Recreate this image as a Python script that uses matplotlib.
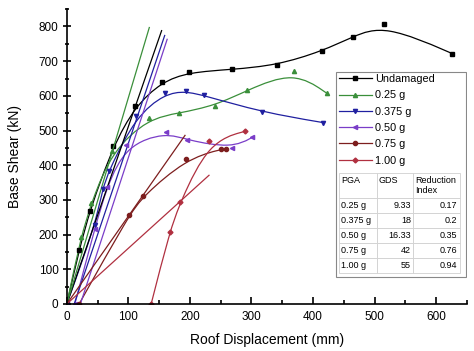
import numpy as np
import matplotlib
matplotlib.use('Agg')
import matplotlib.pyplot as plt
from matplotlib.path import Path
from matplotlib.patches import PathPatch, Rectangle
from matplotlib.lines import Line2D

plt.rcParams['font.family'] = ['Liberation Sans', 'DejaVu Sans']

# curves (mm, kN)
undamaged_x = [0, 20, 37, 75, 111, 154, 198, 268, 341, 415, 465, 516, 626]
undamaged_y = [0, 155, 268, 455, 570, 640, 668, 676, 688, 729, 771, 806, 722]
g025_x = [0, 23, 40, 73, 133, 182, 241, 293, 369, 422]
g025_y = [0, 194, 292, 441, 535, 550, 572, 616, 672, 608]
g0375_x = [0, 46, 58, 68, 112, 160, 193, 223, 317, 416]
g0375_y = [0, 227, 330, 384, 541, 607, 613, 601, 553, 523]
g050_x = [13, 45, 65, 96, 161, 196, 268, 301]
g050_y = [0, 215, 338, 458, 495, 472, 449, 480]
g075_x = [20, 101, 124, 193, 250, 259]
g075_y = [0, 256, 311, 417, 446, 446]
g100_x = [137, 167, 184, 231, 290]
g100_y = [0, 207, 293, 469, 498]

# stiffness lines (start, end)
tangent_x = {'Undamaged': [0, 154], '0.25 g': [0, 134], '0.375 g': [12, 159],
             '0.50 g': [22, 163], '0.75 g': [0, 192], '1.00 g': [0, 231]}
tangent_y = {'Undamaged': [0, 788], '0.25 g': [0, 797], '0.375 g': [0, 774],
             '0.50 g': [0, 763], '0.75 g': [0, 486], '1.00 g': [0, 371]}

labels = ['Undamaged', '0.25 g', '0.375 g', '0.50 g', '0.75 g', '1.00 g']
colors = ['#000000', '#3a8f3a', '#2020a0', '#7a3dc8', '#7d1e1e', '#b03040']
markers = ['s', '^', 'v', '<', 'o', 'D']
msizes = [3.0, 3.0, 3.0, 3.0, 3.0, 2.5]
xs = [undamaged_x, g025_x, g0375_x, g050_x, g075_x, g100_x]
ys = [undamaged_y, g025_y, g0375_y, g050_y, g075_y, g100_y]

# table values
pga = ['0.25 g', '0.375 g', '0.50 g', '0.75 g', '1.00 g']
gds = ['9.33', '18', '16.33', '42', '55']
red_index = ['0.17', '0.2', '0.35', '0.76', '0.94']


def bspline_path(x, y):
    # Origin style B-spline: clamped uniform cubic, drawn as bezier segments
    p = np.column_stack([x, y]).astype(float)
    p = np.vstack([p[:1], p[:1], p, p[-1:], p[-1:]])
    verts = [p[0]]
    codes = [Path.MOVETO]
    for i in range(len(p) - 3):
        p1, p2 = p[i + 1], p[i + 2]
        verts += [(4 * p1 + 2 * p2) / 6, (2 * p1 + 4 * p2) / 6,
                  (p1 + 4 * p2 + p[i + 3]) / 6]
        codes += [Path.CURVE4] * 3
    return Path(verts, codes)


fig = plt.figure(figsize=(4.74, 3.51), dpi=100)
ax = fig.add_axes([0.141, 0.134, 0.844, 0.84])

handles = []
for lab, c, m, ms, x, y in zip(labels, colors, markers, msizes, xs, ys):
    ax.plot(tangent_x[lab], tangent_y[lab], color=c, lw=0.9)
    ax.add_patch(PathPatch(bspline_path(x, y), fill=False, edgecolor=c, lw=0.9))
    ax.plot(x, y, ls='none', marker=m, ms=ms, color=c)
    handles.append(Line2D([], [], color=c, lw=0.9, marker=m, ms=ms))

ax.set_xlim(0, 650)
ax.set_ylim(0, 850)
ax.set_xticks(np.arange(0, 601, 100))
ax.set_xticks(np.arange(0, 651, 50), minor=True)
ax.set_yticks(np.arange(0, 801, 100))
ax.set_yticks(np.arange(0, 851, 50), minor=True)
ax.spines['top'].set_visible(False)
ax.spines['right'].set_visible(False)
for s in ['left', 'bottom']:
    ax.spines[s].set_linewidth(1.2)
ax.tick_params(axis='x', which='major', direction='in', length=5, width=1.2, labelsize=8.5, pad=5)
ax.tick_params(axis='x', which='minor', direction='in', length=3, width=1.2)
ax.tick_params(axis='y', which='major', direction='inout', length=6, width=1.2, labelsize=8.5, pad=3)
ax.tick_params(axis='y', which='minor', direction='inout', length=3.5, width=1.2)
ax.set_xlabel('Roof Displacement (mm)', fontsize=10, labelpad=7)
ax.set_ylabel('Base Shear (kN)', fontsize=10, labelpad=12)

# frame around legend + table
ax.add_patch(Rectangle((0.6725, 0.0925), 0.325, 0.695, transform=ax.transAxes,
                       fill=False, edgecolor='#888888', lw=0.8, zorder=5))
ax.legend(handles, labels, loc='upper left', bbox_to_anchor=(0.675, 0.787),
          frameon=False, fontsize=7.8, handlelength=3.0, handletextpad=0.3,
          labelspacing=0.58, borderpad=0.2, borderaxespad=0)

cells = [[p, g, r] for p, g, r in zip(pga, gds, red_index)]
tab = ax.table(cellText=cells, colLabels=['PGA\n', 'GDS\n', 'Reduction\nIndex'],
               colWidths=[38, 36, 47], bbox=[0.68, 0.105, 0.3025, 0.339],
               cellLoc='right', zorder=5)
tab.auto_set_font_size(False)
tab.set_fontsize(6.5)
for (r, c), cell in tab.get_celld().items():
    cell.set_edgecolor('#d0d0d0')
    cell.set_linewidth(0.6)
    cell.PAD = 0.05
    if r == 0 or c == 0:
        cell.get_text().set_ha('left')
        cell._loc = 'left'
    if r == 0:
        cell.set_height(cell.get_height() * 1.7)

fig.savefig('out.png', dpi=100)
